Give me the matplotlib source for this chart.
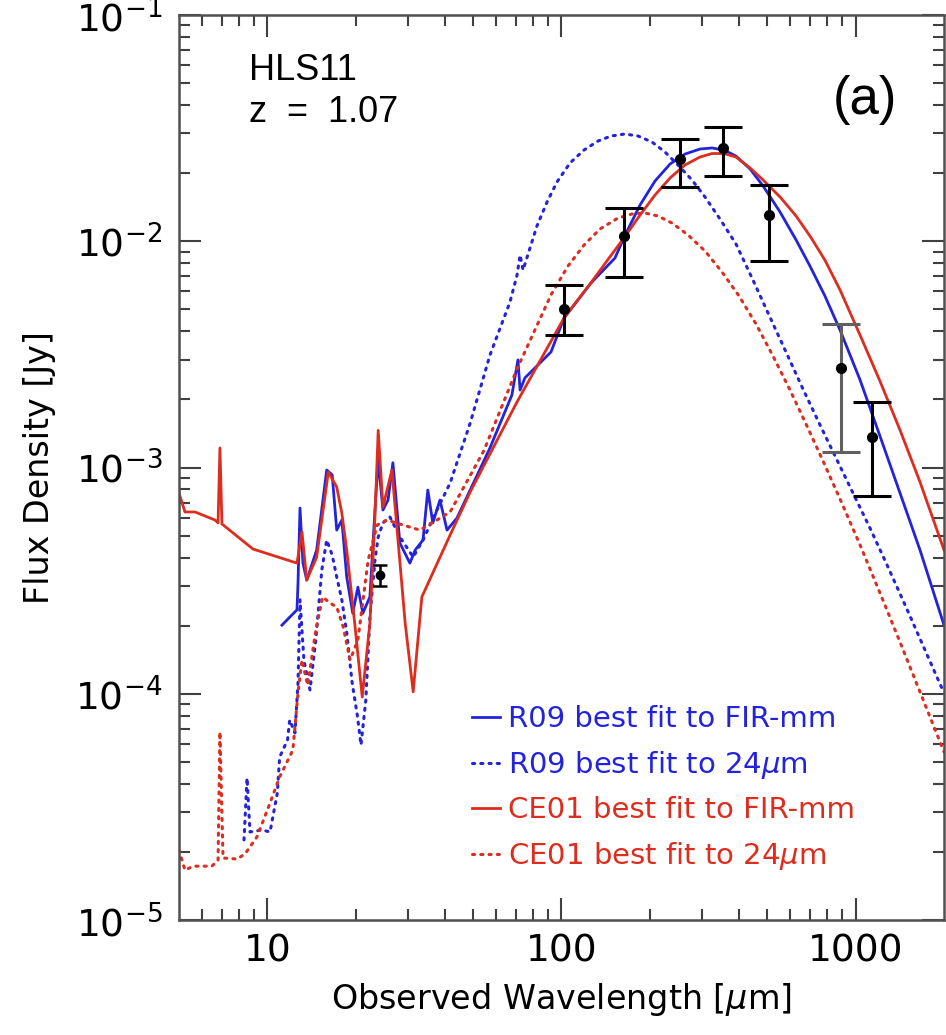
import numpy as np
import matplotlib
matplotlib.use('Agg')
import matplotlib.pyplot as plt
from matplotlib.ticker import FixedLocator, NullFormatter

# CE01 best fit to FIR-mm (red solid)
ce01_fir_lam = [5.0, 5.24, 5.67, 6.63, 6.79, 6.89, 7.00, 8.93, 12.6, 13.1, 13.6, 14.7,
                16.1, 17.2, 17.9, 18.6, 19.8, 21.0, 22.3, 23.2, 23.8, 24.7, 26.5, 27.6,
                29.4, 31.3, 33.5, 41.8, 48.9, 70.6,
                102, 125, 146, 164, 185, 208, 234, 263, 296, 325, 357, 392, 438, 485,
                554, 628, 700, 787, 886, 1036, 1211, 1417, 1657, 2000]
ce01_fir_flux = [7.71e-4, 6.36e-4, 6.36e-4, 5.86e-4, 5.69e-4, 1.22e-3, 5.63e-4, 4.36e-4,
                 3.78e-4, 5.19e-4, 3.18e-4, 4.02e-4, 9.55e-4, 8.20e-4, 6.29e-4, 4.32e-4,
                 2.05e-4, 9.67e-5, 2.05e-4, 6.04e-4, 1.46e-3, 6.69e-4, 9.75e-4, 5.29e-4,
                 2.05e-4, 1.02e-4, 2.68e-4, 5.03e-4, 7.79e-4, 1.95e-3,
                 4.58e-3, 6.47e-3, 8.52e-3, 1.044e-2, 1.306e-2, 1.601e-2, 1.904e-2,
                 2.173e-2, 2.357e-2, 2.442e-2, 2.442e-2, 2.357e-2, 2.108e-2, 1.865e-2,
                 1.569e-2, 1.293e-2, 1.055e-2, 8.26e-3, 6.09e-3, 3.85e-3, 2.41e-3,
                 1.464e-3, 8.63e-4, 4.32e-4]

# R09 best fit to FIR-mm (blue solid)
r09_fir_lam = [11.2, 11.9, 12.6, 12.7, 12.9, 13.2, 13.6, 14.7, 15.9, 16.6, 17.2, 17.9,
               18.6, 19.5, 20.3, 21.1, 22.3, 23.2, 23.8, 24.7, 25.7, 26.7, 28.2, 30.5,
               31.8, 33.8, 35.1, 36.5, 38.6, 40.8, 44.1, 48.9, 57.1, 67.8, 71.1, 72.3,
               75.1, 92.1, 102, 126, 152,
               164, 185, 208, 234, 263, 296, 325, 357, 392, 438, 485, 554, 628, 700,
               787, 886, 1036, 1211, 1417, 1657, 2000]
r09_fir_flux = [2.01e-4, 2.18e-4, 2.35e-4, 3.09e-4, 6.62e-4, 3.78e-4, 3.18e-4, 4.32e-4,
                9.75e-4, 9.27e-4, 5.29e-4, 5.86e-4, 3.28e-4, 2.27e-4, 2.96e-4, 2.27e-4,
                2.68e-4, 6.49e-4, 1.08e-3, 6.49e-4, 7.18e-4, 1.05e-3, 4.64e-4, 3.78e-4,
                4.32e-4, 4.78e-4, 7.95e-4, 5.69e-4, 7.18e-4, 5.29e-4, 5.98e-4, 7.95e-4,
                1.22e-3, 2.09e-3, 2.99e-3, 2.20e-3, 2.49e-3, 3.24e-3, 4.58e-3, 6.54e-3,
                8.43e-3,
                1.055e-2, 1.446e-2, 1.846e-2, 2.195e-2, 2.429e-2, 2.557e-2, 2.584e-2,
                2.531e-2, 2.380e-2, 2.086e-2, 1.754e-2, 1.346e-2, 1.013e-2, 7.77e-3,
                5.73e-3, 4.05e-3, 2.44e-3, 1.378e-3, 7.71e-4, 4.32e-4, 2.01e-4]

# R09 best fit to 24um (blue dotted)
r09_24_lam = [8.32, 8.52, 8.72, 9.58, 10.2, 10.8, 11.0, 11.7, 11.9, 12.4, 12.7, 12.9,
              13.3, 13.95, 14.6, 15.3, 15.9, 16.6, 17.2, 17.9, 18.6, 19.4, 20.2, 20.8,
              21.6, 22.3, 23.2, 23.8, 24.7, 26.1, 28.2, 31.3, 33.8, 37.7, 41.8, 48.9,
              57.1, 66.8, 70.6, 72.3, 74.0,
              82.5, 89.3, 96.5, 106.9, 119.3, 133.1, 147.4, 164.4, 182.1, 203.2, 224.9,
              249.0, 277.9, 307.7, 346.0, 392.3, 444.6, 507.8, 580.2, 663.0, 757.5,
              858.3, 980.6, 1120, 1280, 1474, 1723, 2000]
r09_24_flux = [2.26e-5, 4.24e-5, 2.45e-5, 2.50e-5, 2.45e-5, 3.64e-5, 5.25e-5, 6.25e-5,
               7.66e-5, 6.71e-5, 1.12e-4, 2.60e-4, 1.41e-4, 1.04e-4, 1.73e-4, 3.52e-4,
               4.78e-4, 4.10e-4, 3.28e-4, 2.60e-4, 1.86e-4, 1.12e-4, 8.05e-5, 5.94e-5,
               9.39e-5, 2.18e-4, 3.90e-4, 4.93e-4, 5.69e-4, 6.04e-4, 4.93e-4, 4.02e-4,
               4.78e-4, 6.49e-4, 8.54e-4, 1.57e-3, 3.14e-3, 5.39e-3, 7.09e-3, 8.69e-3,
               7.46e-3,
               1.168e-2, 1.491e-2, 1.827e-2, 2.218e-2, 2.531e-2, 2.773e-2, 2.919e-2,
               2.979e-2, 2.919e-2, 2.745e-2, 2.480e-2, 2.173e-2, 1.865e-2, 1.569e-2,
               1.254e-2, 9.72e-3, 6.88e-3, 4.72e-3, 3.24e-3, 2.22e-3, 1.541e-3,
               1.102e-3, 7.71e-4, 5.40e-4, 3.71e-4, 2.47e-4, 1.561e-4, 1.008e-4]

# CE01 best fit to 24um (red dotted)
ce01_24_lam = [5.0, 5.24, 5.58, 6.47, 6.79, 6.89, 7.06, 7.88, 8.39, 9.21, 10.2, 11.0,
               12.2, 12.7, 13.1, 13.7, 14.6, 15.4, 16.3, 17.2, 18.1, 19.1, 20.3, 22.0,
               23.6, 25.5, 28.9, 33.0, 37.7, 41.8, 54.5, 70.6,
               92.1, 105.2, 119.3, 135.2, 155.7, 173.8, 192.3, 212.9, 237.6, 269.4,
               307.7, 351.6, 401.6, 458.7, 524.1, 598.8, 678.6, 775.3, 885.7, 1036,
               1211, 1417, 1684, 2000]
ce01_24_flux = [2.04e-5, 1.66e-5, 1.73e-5, 1.73e-5, 1.84e-5, 6.78e-5, 1.88e-5, 1.86e-5,
                1.96e-5, 2.33e-5, 3.29e-5, 4.29e-5, 5.64e-5, 1.01e-4, 1.41e-4, 1.09e-4,
                1.91e-4, 2.68e-4, 2.52e-4, 2.42e-4, 1.97e-4, 1.41e-4, 1.73e-4, 3.90e-4,
                5.57e-4, 5.86e-4, 5.57e-4, 5.29e-4, 5.86e-4, 6.36e-4, 1.19e-3, 2.73e-3,
                5.79e-3, 7.77e-3, 9.62e-3, 1.133e-2, 1.267e-2, 1.320e-2, 1.333e-2,
                1.293e-2, 1.204e-2, 1.066e-2, 9.06e-3, 7.31e-3, 5.73e-3, 4.31e-3,
                3.11e-3, 2.20e-3, 1.557e-3, 1.069e-3, 7.26e-4, 4.55e-4, 2.79e-4,
                1.693e-4, 9.67e-5, 5.53e-5]

# photometry
obs_lam = [102, 163, 253, 354, 508, 890, 1140]
obs_flux = [5.0e-3, 1.05e-2, 2.31e-2, 2.58e-2, 1.31e-2, 2.75e-3, 1.36e-3]
obs_hi = [6.4e-3, 1.40e-2, 2.83e-2, 3.2e-2, 1.77e-2, 4.3e-3, 1.95e-3]
obs_lo = [3.85e-3, 6.95e-3, 1.74e-2, 1.94e-2, 8.2e-3, 1.17e-3, 7.5e-4]
mips_lam, mips_flux, mips_err = 24.2, 3.35e-4, 0.35e-4

legend_labels = ['R09 best fit to FIR-mm', r'R09 best fit to 24$\mu$m',
                 'CE01 best fit to FIR-mm', r'CE01 best fit to 24$\mu$m']

blue = '#2323dc'
red = '#dc2d1e'
dots = (0, (0.7, 2.0))

fig = plt.figure(figsize=(9.46, 10.35), dpi=100)
ax = fig.add_axes([0.1892, 0.1111, 0.8087, 0.8744])

l1, = ax.plot(r09_fir_lam, r09_fir_flux, color=blue, lw=2.0)
l2, = ax.plot(r09_24_lam, r09_24_flux, color=blue, lw=2.2, ls=dots, dash_capstyle='round')
l3, = ax.plot(ce01_fir_lam, ce01_fir_flux, color=red, lw=2.0)
l4, = ax.plot(ce01_24_lam, ce01_24_flux, color=red, lw=2.2, ls=dots, dash_capstyle='round')

# error bars (850um one is drawn in grey in the original)
for i in range(len(obs_lam)):
    c = '#606060' if i == 5 else 'black'
    ax.errorbar(obs_lam[i], obs_flux[i],
                yerr=[[obs_flux[i] - obs_lo[i]], [obs_hi[i] - obs_flux[i]]],
                fmt='o', color='black', ecolor=c, ms=7, elinewidth=2.2,
                capsize=14, capthick=2.2, zorder=5)
ax.errorbar(mips_lam, mips_flux, yerr=mips_err, fmt='o', color='black', ms=6,
            elinewidth=1.8, capsize=5, capthick=1.8, zorder=5)

ax.set_xscale('log')
ax.set_yscale('log')
ax.set_xlim(5, 2000)
ax.set_ylim(1e-5, 1e-1)

ax.xaxis.set_major_locator(FixedLocator([10, 100, 1000]))
ax.xaxis.set_minor_locator(FixedLocator([6, 7, 8, 9, 20, 30, 40, 50, 60, 70, 80, 90,
                                         200, 300, 400, 500, 600, 700, 800, 900]))
ax.set_xticklabels(['10', '100', '1000'])
ax.xaxis.set_minor_formatter(NullFormatter())

yt = [1e-5, 1e-4, 1e-3, 1e-2, 1e-1]
ax.yaxis.set_major_locator(FixedLocator(yt))
ax.set_yticklabels([r'$10^{-5}$', r'$10^{-4}$', r'$10^{-3}$', r'$10^{-2}$', r'$10^{-1}$'])
ymin = [m * d for d in [1e-5, 1e-4, 1e-3, 1e-2] for m in range(2, 10)]
ax.yaxis.set_minor_locator(FixedLocator(ymin))
ax.yaxis.set_minor_formatter(NullFormatter())

ax.tick_params(which='both', direction='in', top=True, right=True, color='#404040')
ax.tick_params(which='major', length=16, width=1.5)
ax.tick_params(which='minor', length=8, width=1.5)
ax.tick_params(axis='x', which='major', labelsize=27, pad=10)
ax.tick_params(axis='y', which='major', labelsize=27, pad=12)
for s in ax.spines.values():
    s.set_color('#505050')
    s.set_linewidth(1.8)

ax.set_xlabel(r'Observed Wavelength [$\mu$m]', fontsize=24, labelpad=8)
ax.set_ylabel('Flux Density [Jy]', fontsize=24, labelpad=14)

ax.text(0.092, 0.958, 'HLS11', transform=ax.transAxes, fontsize=26,
        family='Liberation Sans', va='top', ha='left')
ax.text(0.092, 0.912, 'z  =  1.07', transform=ax.transAxes, fontsize=26,
        family='Liberation Sans', va='top', ha='left')
ax.text(0.897, 0.906, '(a)', transform=ax.transAxes, fontsize=38,
        family='Liberation Sans', va='center', ha='center')

leg = ax.legend([l1, l2, l3, l4], legend_labels, loc='upper left',
                bbox_to_anchor=(0.383, 0.2376), frameon=False, fontsize=21,
                handlelength=0.96, handletextpad=0.27, labelspacing=0.54,
                borderpad=0, borderaxespad=0, labelcolor='linecolor')

fig.savefig('out.png', dpi=100)
